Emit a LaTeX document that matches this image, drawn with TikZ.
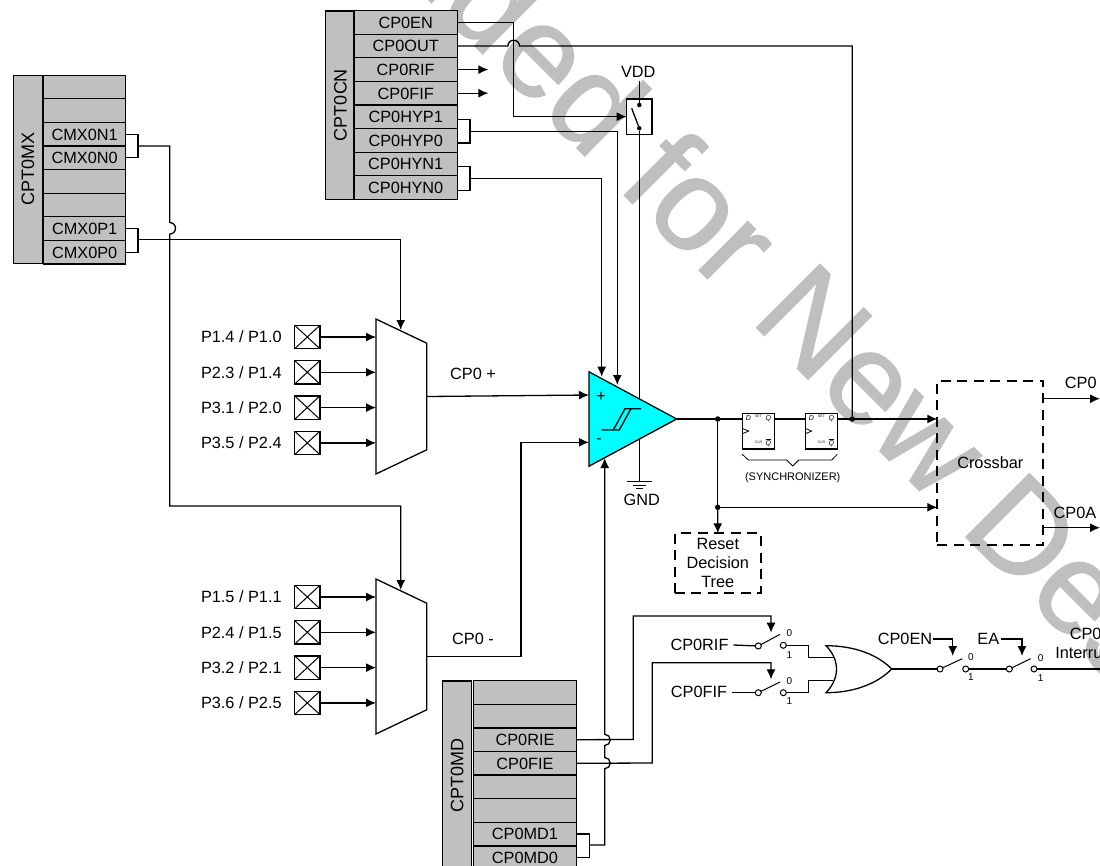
\documentclass[tikz,border=0pt]{standalone}
\usepackage{fontspec}
\setmainfont{Liberation Sans}
\newfontfamily\markfont[FakeBold=1.2]{Liberation Sans}
\usepackage{xcolor}
\usepackage{tikz}
\usetikzlibrary{shapes.geometric, arrows.meta, positioning, calc}
\definecolor{regfill}{HTML}{C0C0C0}
\definecolor{markgray}{HTML}{BFBFBF}
\definecolor{compfill}{HTML}{00FFFF}

\begin{document}
\begin{tikzpicture}[
    x=1pt, y=-1pt,
    line width=1.3pt,
    % Define styles for the nodes
    text_node/.style={inner sep=0pt, outer sep=0pt, font=\fontsize{16.3pt}{19pt}\selectfont, align=center},
    cell_node/.style={rectangle, draw=black, fill=regfill, outer sep=0pt, inner sep=0pt, minimum height=23.6pt, text height=11.7pt, text depth=0pt, font=\fontsize{16.3pt}{19pt}\selectfont},
    cn_cell/.style={cell_node, minimum width=103.3pt},
    mx_cell/.style={cell_node, minimum width=82pt},
    md_cell/.style={cell_node, minimum width=103.4pt},
    title_node/.style={rectangle, draw=black, fill=regfill, rotate=90, outer sep=0pt, inner sep=0pt, minimum height=29pt, font=\fontsize{18pt}{20pt}\selectfont},
    pad_node/.style={rectangle, draw=black, outer sep=0pt, minimum width=25.3pt, minimum height=23.5pt, inner sep=0pt,
        path picture={\draw[line width=1pt] (path picture bounding box.south west) -- (path picture bounding box.north east) (path picture bounding box.north west) -- (path picture bounding box.south east);}},
    mux_node/.style={trapezium, draw=black, fill=white, rotate=-90, trapezium stretches body, trapezium angle=64.5, text height=50.7pt, text depth=0pt, minimum width=155pt, inner sep=0pt, outer sep=0pt},
    comp_node/.style={isosceles triangle, isosceles triangle stretches, draw=black, fill=compfill, minimum width=94.4pt, minimum height=87.7pt, inner sep=0pt, outer sep=0pt},
    ff_node/.style={rectangle, draw=black, fill=white, minimum width=32pt, minimum height=35.7pt, inner sep=0pt, outer sep=0pt},
    ff_big/.style={inner sep=0pt, font=\fontsize{7pt}{8pt}\itshape\selectfont},
    ff_tiny/.style={inner sep=0pt, font=\fontsize{3.5pt}{4pt}\selectfont},
    dash_box/.style={rectangle, draw=black, line width=2pt, dash pattern=on 10pt off 6.5pt, align=center, inner sep=0pt, outer sep=0pt, font=\fontsize{16.3pt}{19pt}\selectfont},
    dot_node/.style={circle, fill=black, minimum size=5.5pt, inner sep=0pt, outer sep=0pt},
    contact_node/.style={circle, draw=black, fill=white, line width=1pt, minimum size=6pt, inner sep=0pt, outer sep=0pt},
    digit_node/.style={inner sep=0pt, font=\fontsize{10pt}{11pt}\selectfont},
    % Styles for arrows
    arrow/.style={-{Latex[length=10pt,width=9pt]}}
]
    \useasboundingbox (0,0) rectangle (1100,865);
    \clip (0,0) rectangle (1100,865);

    % =========================================================================
    % BACKGROUND MARK
    % =========================================================================
    \node (mark_text) [text=markgray, inner sep=0pt, rotate=-45, anchor=base, font=\markfont\fontsize{130pt}{130pt}\selectfont] at (545,116) {Not Recommended for New Designs};

    % =========================================================================
    % REGISTER CPT0CN
    % =========================================================================
    \node (cpt0cn) [title_node, minimum width=188.3pt] at (340.3,105) {CPT0CN};
    \node (cp0en) [cn_cell] at (405.7,22.4) {CP0EN};
    \node (cp0out) [cn_cell, below=0pt of cp0en] {CP0OUT};
    \node (cp0rif) [cn_cell, below=0pt of cp0out] {CP0RIF};
    \node (cp0fif) [cn_cell, below=0pt of cp0rif] {CP0FIF};
    \node (cp0hyp1) [cn_cell, below=0pt of cp0fif] {CP0HYP1};
    \node (cp0hyp0) [cn_cell, below=0pt of cp0hyp1] {CP0HYP0};
    \node (cp0hyn1) [cn_cell, below=0pt of cp0hyp0] {CP0HYN1};
    \node (cp0hyn0) [cn_cell, below=0pt of cp0hyn1] {CP0HYN0};

    \draw [arrow] (cp0rif.east) -- ++(31,0);
    \draw [arrow] (cp0fif.east) -- ++(31,0);

    % =========================================================================
    % REGISTER CPT0MX
    % =========================================================================
    \node (cpt0mx) [title_node, minimum width=188.3pt] at (28,169.3) {CPT0MX};
    \node (mx_row_a) [mx_cell] at (84.7,87) {};
    \node (mx_row_b) [mx_cell, below=0pt of mx_row_a] {};
    \node (cmx0n1) [mx_cell, below=0pt of mx_row_b] {CMX0N1};
    \node (cmx0n0) [mx_cell, below=0pt of cmx0n1] {CMX0N0};
    \node (mx_row_c) [mx_cell, below=0pt of cmx0n0] {};
    \node (mx_row_d) [mx_cell, below=0pt of mx_row_c] {};
    \node (cmx0p1) [mx_cell, below=0pt of mx_row_d] {CMX0P1};
    \node (cmx0p0) [mx_cell, below=0pt of cmx0p1] {CMX0P0};

    % =========================================================================
    % REGISTER CPT0MD
    % =========================================================================
    \node (cpt0md) [title_node, minimum width=188.3pt] at (457.2,775) {CPT0MD};
    \node (md_row_a) [md_cell] at (525,692.5) {};
    \node (md_row_b) [md_cell, below=0pt of md_row_a] {};
    \node (cp0rie) [md_cell, below=0pt of md_row_b] {CP0RIE};
    \node (cp0fie) [md_cell, below=0pt of cp0rie] {CP0FIE};
    \node (md_row_c) [md_cell, below=0pt of cp0fie] {};
    \node (md_row_d) [md_cell, below=0pt of md_row_c] {};
    \node (cp0md1) [md_cell, below=0pt of md_row_d] {CP0MD1};
    \node (cp0md0) [md_cell, below=0pt of cp0md1] {CP0MD0};

    % =========================================================================
    % INPUT MUXES AND PINS
    % =========================================================================
    \node (mux_plus) [mux_node] at (401.3,396.5) {};
    \node (mux_minus) [mux_node] at (401.3,656.5) {};

    \node (pad_p1) [pad_node] at (307.3,337) {};
    \node (pad_p2) [pad_node, below=11.8pt of pad_p1] {};
    \node (pad_p3) [pad_node, below=11.8pt of pad_p2] {};
    \node (pad_p4) [pad_node, below=11.8pt of pad_p3] {};
    \node (pad_n1) [pad_node] at (307.3,597) {};
    \node (pad_n2) [pad_node, below=11.8pt of pad_n1] {};
    \node (pad_n3) [pad_node, below=11.8pt of pad_n2] {};
    \node (pad_n4) [pad_node, below=11.8pt of pad_n3] {};

    \node (label_p1) [text_node, left=13pt of pad_p1] {P1.4 / P1.0};
    \node (label_p2) [text_node, left=13pt of pad_p2] {P2.3 / P1.4};
    \node (label_p3) [text_node, left=13pt of pad_p3] {P3.1 / P2.0};
    \node (label_p4) [text_node, left=13pt of pad_p4] {P3.5 / P2.4};
    \node (label_n1) [text_node, left=13pt of pad_n1] {P1.5 / P1.1};
    \node (label_n2) [text_node, left=13pt of pad_n2] {P2.4 / P1.5};
    \node (label_n3) [text_node, left=13pt of pad_n3] {P3.2 / P2.1};
    \node (label_n4) [text_node, left=13pt of pad_n4] {P3.6 / P2.5};

    \coordinate (mux_plus_west) at (376,396.5);
    \coordinate (mux_minus_west) at (376,656.5);
    \draw [arrow] (pad_p1.east) -- (pad_p1.east -| mux_plus_west);
    \draw [arrow] (pad_p2.east) -- (pad_p2.east -| mux_plus_west);
    \draw [arrow] (pad_p3.east) -- (pad_p3.east -| mux_plus_west);
    \draw [arrow] (pad_p4.east) -- (pad_p4.east -| mux_plus_west);
    \draw [arrow] (pad_n1.east) -- (pad_n1.east -| mux_minus_west);
    \draw [arrow] (pad_n2.east) -- (pad_n2.east -| mux_minus_west);
    \draw [arrow] (pad_n3.east) -- (pad_n3.east -| mux_minus_west);
    \draw [arrow] (pad_n4.east) -- (pad_n4.east -| mux_minus_west);

    % Register brackets into the mux select lines
    \coordinate (mx_n_tap) at (138,146);
    \coordinate (mx_p_tap) at (138,239.3);
    \coordinate (mux_plus_sel) at (400.7,330);
    \coordinate (mux_minus_sel) at (400.7,590);
    \draw (cmx0n1.east) -- ++(12.3,0) |- (cmx0n0.east);
    \draw (cmx0p1.east) -- ++(12.3,0) |- (cmx0p0.east);
    \draw [arrow] (mx_p_tap) -| (mux_plus_sel);
    \draw [arrow] (mx_n_tap) -- (169.7,146) -- (169.7,222.5) arc[start angle=90, end angle=-90, radius=5.8pt] -- (169.7,506) -| (mux_minus_sel);

    % =========================================================================
    % COMPARATOR, VDD SWITCH AND GND
    % =========================================================================
    \node (vdd) [text_node] at (638.3,71.7) {VDD};
    \node (hyst_switch) [rectangle, draw=black, fill=white, minimum width=25.3pt, minimum height=35.3pt, inner sep=0pt, outer sep=0pt] at (639.3,116.7) {};
    \node (switch_top) [dot_node, minimum size=4.5pt] at (639.3,105) {};
    \node (switch_bot) [dot_node, minimum size=4.5pt] at (639.3,128.3) {};
    \draw (switch_top) -- (639.3,81);
    \draw (631.7,108.3) -- (switch_bot);

    \coordinate (gnd_top) at (639.3,481.7);
    \draw (switch_bot) -- (gnd_top);
    \draw (gnd_top) ++(-12.7,0) -- ++(25.4,0);
    \draw (gnd_top) ++(-6.5,3.7) -- ++(13,0);
    \draw (gnd_top) ++(-3.5,7) -- ++(7,0);
    \node (gnd) [text_node] at (641.7,500) {GND};

    \node (comparator) [comp_node, anchor=apex] at (676.7,419) {};
    \node (comp_pos) [inner sep=0pt, font=\fontsize{16pt}{16pt}\selectfont] at (601,396.5) {+};
    \node (comp_neg) [inner sep=0pt, font=\fontsize{16pt}{16pt}\selectfont] at (599,441.5) {-};
    \draw (601.7,430) -- (619.3,430) -- (631,408.7) -- (641,408.7);
    \draw (613.3,430) -- (625,408.7) -- (631,408.7);

    \coordinate (comp_plus_in) at (589,395);
    \coordinate (comp_minus_in) at (589,442.3);
    \coordinate (comp_hyn_in) at (601.7,376.7);
    \coordinate (comp_hyp_in) at (617.3,385);
    \coordinate (comp_md_in) at (604.7,458);

    \draw [arrow] (mux_plus.north) -- (comp_plus_in);
    \draw [arrow] (mux_minus.north) -- (521,656.5) |- (comp_minus_in);
    \node (cp0_plus_label) [text_node] at (473,374) {CP0 +};
    \node (cp0_minus_label) [text_node] at (473,639) {CP0 -};

    % Register connections to the comparator
    \coordinate (hyp_tap) at (470,131.4);
    \coordinate (hyn_tap) at (470,178.3);
    \draw ([yshift=-2.6pt]cp0hyp1.east) -- ++(12.7,0) |- ([yshift=-2.6pt]cp0hyp0.east);
    \draw ([yshift=-2.6pt]cp0hyn1.east) -- ++(12.7,0) |- ([yshift=-2.6pt]cp0hyn0.east);
    \draw [arrow] (hyp_tap) -| (comp_hyp_in);
    \draw [arrow] (hyn_tap) -| (comp_hyn_in);
    \draw [arrow] (cp0en.east) -- (513.7,22.4) |- (hyst_switch.west);

    % =========================================================================
    % SYNCHRONIZER, CROSSBAR AND RESET
    % =========================================================================
    \node (ff_first) [ff_node] at (758.3,431.2) {};
    \node (ff_second) [ff_node, right=31pt of ff_first] {};
    \node (crossbar) [dash_box, minimum width=106pt, minimum height=164.3pt] at (990.3,462.8) {Crossbar};
    \node (reset_tree) [dash_box, minimum width=85.7pt, minimum height=59.4pt] at (717.8,563) {Reset\\Decision\\Tree};

    \node (ff_first_d) [ff_big] at ([shift={(6,5)}]ff_first.north west) {D};
    \node (ff_first_s) [ff_tiny] at ([shift={(16,3.4)}]ff_first.north west) {SET};
    \node (ff_first_q) [ff_big] at ([shift={(26,5)}]ff_first.north west) {Q};
    \node (ff_first_c) [ff_tiny] at ([shift={(16.4,-6.3)}]ff_first.south west) {CLR};
    \node (ff_first_n) [ff_big] at ([shift={(26,-6.3)}]ff_first.south west) {$\overline{\mbox{Q}}$};
    \draw [line width=.8pt] ([shift={(0,15)}]ff_first.north west) -- ++(6.3,2.7) -- ++(-6.3,2.7);
    \node (ff_second_d) [ff_big] at ([shift={(6,5)}]ff_second.north west) {D};
    \node (ff_second_s) [ff_tiny] at ([shift={(16,3.4)}]ff_second.north west) {SET};
    \node (ff_second_q) [ff_big] at ([shift={(26,5)}]ff_second.north west) {Q};
    \node (ff_second_c) [ff_tiny] at ([shift={(16.4,-6.3)}]ff_second.south west) {CLR};
    \node (ff_second_n) [ff_big] at ([shift={(26,-6.3)}]ff_second.south west) {$\overline{\mbox{Q}}$};
    \draw [line width=.8pt] ([shift={(0,15)}]ff_second.north west) -- ++(6.3,2.7) -- ++(-6.3,2.7);

    \draw [line width=.8pt] (742.3,454.3) -- (748.3,460) -- (786.7,460) -- (792.7,466) -- (798.7,460) -- (831.7,460) -- (837.3,454.3);
    \node (sync_label) [inner sep=0pt, font=\fontsize{11pt}{12pt}\selectfont] at (792.7,477.3) {(SYNCHRONIZER)};

    \node (out_dot) [dot_node] at (717.7,419) {};
    \node (reset_dot) [dot_node] at (717.7,507.3) {};
    \node (cp0out_dot) [dot_node] at (852.3,419) {};
    \coordinate (crossbar_sync) at (crossbar.west |- out_dot);
    \coordinate (crossbar_async) at (crossbar.west |- reset_dot);

    \draw (comparator.apex) -- (out_dot);
    \draw (out_dot) -- ([yshift=12.2pt]ff_first.west);
    \draw ([yshift=12.2pt]ff_first.east) -- ([yshift=12.2pt]ff_second.west);
    \draw ([yshift=12.2pt]ff_second.east) -- (cp0out_dot);
    \draw [arrow] (cp0out_dot) -- (crossbar_sync);
    \draw (out_dot) -- (reset_dot);
    \draw [arrow] (reset_dot) -- (reset_tree.north);
    \draw [arrow] (reset_dot) -- (crossbar_async);
    \draw (cp0out.east) -- (507.9,46) arc[start angle=180, end angle=0, radius=5.8pt] -- (852.3,46) -- (cp0out_dot);

    \coordinate (cp0_end) at (1100,398.7);
    \coordinate (cp0a_end) at (1100,527.7);
    \draw [arrow] (crossbar.east |- cp0_end) -- (cp0_end);
    \draw [arrow] (crossbar.east |- cp0a_end) -- (cp0a_end);
    \node (cp0_label) [text_node] at (1080.7,383.3) {CP0};
    \node (cp0a_label) [text_node] at (1075,512.7) {CP0A};

    % =========================================================================
    % INTERRUPT LOGIC
    % =========================================================================
    \node (rif_label) [text_node] at (699.5,645) {CP0RIF};
    \node (fif_label) [text_node] at (699,691.7) {CP0FIF};
    \node (rif_in) [contact_node] at (758.3,646) {};
    \node (rif_out) [contact_node] at (783.3,645.3) {};
    \node (fif_in) [contact_node] at (758.3,692.7) {};
    \node (fif_out) [contact_node] at (783.3,692.7) {};
    \node (en_in) [contact_node] at (940,669) {};
    \node (en_out) [contact_node] at (965.7,669) {};
    \node (ea_in) [contact_node] at (1009.3,669) {};
    \node (ea_out) [contact_node] at (1034,669) {};

    \node (rif_zero) [digit_node] at (789.3,633.3) {0};
    \node (rif_one) [digit_node] at (789.3,655.3) {1};
    \node (fif_zero) [digit_node] at (789.3,680.7) {0};
    \node (fif_one) [digit_node] at (789.3,701) {1};
    \node (en_zero) [digit_node] at (971,656.7) {0};
    \node (en_one) [digit_node] at (971,677.3) {1};
    \node (ea_zero) [digit_node] at (1040.7,657.7) {0};
    \node (ea_one) [digit_node] at (1040.7,678.3) {1};

    % Switch arms
    \draw [line width=1pt] (rif_in) -- ++(21.7,-11.7);
    \draw [line width=1pt] (fif_in) -- ++(21.7,-10.7);
    \draw [line width=1pt] (en_in) -- ++(22.3,-10.3);
    \draw [line width=1pt] (ea_in) -- ++(21.4,-10.3);

    \draw (rif_label.east) ++(5,0) -- (rif_in);
    \draw (fif_label.east) ++(5,1) -- (fif_in);

    % OR gate
    \coordinate (or_tip) at (891.7,669);
    \coordinate (or_in_a) at (833,657.3);
    \coordinate (or_in_b) at (833,680.7);
    \draw (rif_out) -- (808.3,645.3) |- (or_in_a);
    \draw (fif_out) -- (808.3,692.7) |- (or_in_b);
    \draw [fill=white] (826,645.7) .. controls (855,645.7) and (878,655) .. (or_tip) .. controls (878,683) and (855,692.7) .. (826,692.7) .. controls (840,678) and (840,660) .. cycle;

    \draw (or_tip) -- (en_in);
    \draw (en_out) -- (ea_in);
    \coordinate (interrupt_end) at (1100,669);
    \draw (ea_out) -- (interrupt_end);

    \node (en_label) [text_node] at (905,639) {CP0EN};
    \node (ea_label) [text_node] at (988.3,639) {EA};
    \node (interrupt_label) [text_node] at (1085.6,644.5) {CP0\\Interrupt};
    \coordinate (en_sel) at (952.7,656);
    \coordinate (ea_sel) at (1022,656);
    \draw [arrow] (en_label.east) ++(1,0) -| (en_sel);
    \draw [arrow] (ea_label.east) ++(2,0) -| (ea_sel);

    % Enable lines from CPT0MD
    \coordinate (rif_sel) at (771,632.7);
    \coordinate (fif_sel) at (771,679.3);
    \draw [arrow] (cp0rie.east) -- (633.3,739.5) |- (771,616) -- (rif_sel);
    \draw [arrow] (cp0fie.east) -- (652.3,763) |- (771,662.7) -- (fif_sel);
    \coordinate (md_tap) at (589.3,845);
    \draw (cp0md1.east) -- ++(12.6,0) |- (cp0md0.east);
    \draw [arrow] (md_tap) -- (604.7,845) -- (604.7,768.7) arc[start angle=-90, end angle=90, radius=5.6pt] -- (604.7,745.5) arc[start angle=-90, end angle=90, radius=5.6pt] -- (comp_md_in);

\end{tikzpicture}
\end{document}
